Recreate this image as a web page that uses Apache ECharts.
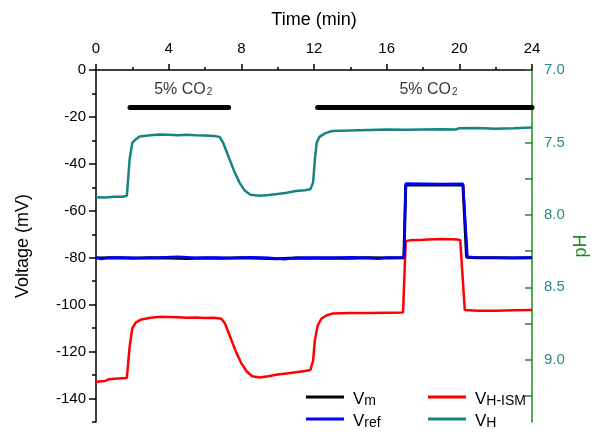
<!DOCTYPE html>
<html>
<head>
<meta charset="utf-8">
<script src="https://cdn.jsdelivr.net/npm/echarts@6/dist/echarts.min.js"></script>
<style>
    html, body { margin: 0; padding: 0; background: #fff; }
    #chart { width: 592px; height: 436px; }
</style>
</head>
<body>
<div id="chart"></div>
<script>
// 数据：时间 (min) 与电压 (mV)
const vm = [
    [0, -80.1], [1, -80.0], [2, -80.2], [3, -80.0], [4, -80.1], [5, -80.3], [6, -80.1], [7, -80.2],
    [8, -80.0], [9, -80.2], [10, -80.4], [11, -80.1], [12, -80.2], [13, -80.1], [14, -80.2],
    [15, -80.0], [16, -80.1], [16.95, -80.0], [17.05, -49.0], [18, -49.0], [19, -48.9],
    [20.2, -49.0], [20.4, -79.8], [21, -80.0], [22, -80.0], [23, -80.1], [24, -80.0]
];
const vref = [
    [0, -79.8], [0.3, -80.6], [0.6, -80.0], [1.5, -79.9], [2.5, -80.1], [3.5, -79.9], [4.5, -79.6],
    [5.5, -80.0], [6.5, -79.9], [7.5, -80.1], [8.5, -79.8], [9.5, -80.0], [10.4, -80.6], [11, -80.0],
    [12, -79.9], [13, -80.0], [14, -79.8], [15, -80.0], [15.5, -80.4], [16, -79.9], [16.95, -79.8],
    [17.05, -48.4], [18, -48.5], [19, -48.6], [20.2, -48.5], [20.45, -79.6], [21, -79.9],
    [22, -80.0], [23, -80.0], [24, -79.9]
];
const vhIsm = [
    [0, -132.8], [0.5, -132.5], [0.7, -131.8], [1.2, -131.5], [1.7, -131.2], [1.85, -118], [2.0, -110],
    [2.2, -107.5], [2.5, -106.3], [3, -105.6], [3.5, -105.2], [4, -105.3], [4.5, -105.4], [5, -105.6],
    [5.5, -105.5], [6, -105.7], [6.5, -105.6], [6.9, -106], [7.1, -108], [7.4, -114], [7.7, -120],
    [8.0, -125], [8.3, -128.5], [8.6, -130.5], [9, -131], [9.5, -130.5], [10, -129.8], [10.5, -129.3],
    [11, -128.8], [11.5, -128.3], [11.8, -127.8], [11.95, -124], [12.05, -115], [12.2, -109],
    [12.4, -106], [12.7, -104.5], [13, -103.8], [14, -103.5], [15, -103.6], [16, -103.4],
    [16.9, -103.3], [17.05, -73], [17.3, -72.5], [18, -72.3], [19, -72.0], [19.9, -72.2],
    [20.05, -72.5], [20.3, -102.3], [21, -102.6], [22, -102.6], [23, -102.4], [24, -102.3]
];
const vh = [
    [0, -54.2], [0.5, -54.3], [1.0, -54.0], [1.5, -54.0], [1.7, -53.5], [1.85, -38], [2.0, -31],
    [2.2, -29.5], [2.4, -28.3], [3, -27.8], [3.5, -27.5], [4, -27.6], [4.5, -27.8], [5, -27.6],
    [5.5, -27.8], [6, -27.9], [6.5, -28.1], [6.8, -28.5], [7.0, -31], [7.3, -37], [7.6, -43],
    [7.9, -48], [8.2, -51.5], [8.5, -53.2], [9, -53.6], [9.5, -53.3], [10, -52.8], [10.5, -52.3],
    [11, -51.6], [11.5, -51.2], [11.8, -50.8], [11.95, -48], [12.05, -38], [12.15, -31],
    [12.3, -28.5], [12.6, -27], [13, -26], [14, -25.8], [15, -25.6], [16, -25.4], [17, -25.5],
    [18, -25.4], [19, -25.3], [19.8, -25.4], [20, -24.8], [21, -24.7], [22, -25], [23, -24.8], [24, -24.5]
];

// 5% CO2 通气时段
const co2Bar1 = [[1.87, -16], [7.3, -16]];
const co2Bar2 = [[12.2, -16], [24, -16]];
const co2Labels = [[4.8, -7.5], [18.3, -7.5]];

// 刻度
const voltMajorTicks = [0, -20, -40, -60, -80, -100, -120, -140];
const voltMinorTicks = [-10, -30, -50, -70, -90, -110, -130, -150];
const phTicks = [7, 7.25, 7.5, 7.75, 8, 8.25, 8.5, 8.75, 9, 9.25];
const phLabels = [7, 7.5, 8, 8.5, 9];

const FONT = 'Liberation Sans';
const GREEN = '#1f8a1f';
const TEAL = '#178482';

const legendNames = {
    'Vm': '{v|V}{s|m}',
    'Vref': '{v|V}{s|ref}',
    'VH-ISM': '{v|V}{s|H-ISM}',
    'VH': '{v|V}{s|H}'
};
const legendRich = {
    v: { fontSize: 17, fontFamily: FONT, color: '#000', lineHeight: 20, verticalAlign: 'bottom', padding: [0, 0, 0, 4] },
    s: { fontSize: 14, fontFamily: FONT, color: '#000', padding: [8, 0, 0, 0], verticalAlign: 'bottom' }
};

// 每个图例单独放置
const makeLegend = (name, left, top) => ({
    data: [name],
    left,
    top,
    icon: 'rect',
    itemWidth: 38,
    itemHeight: 3,
    padding: 0,
    formatter: (n) => legendNames[n],
    textStyle: { rich: legendRich }
});

const lineSeries = (name, data, color, width) => ({
    name,
    type: 'line',
    data,
    showSymbol: false,
    symbol: 'none',
    lineStyle: { color, width },
    itemStyle: { color },
    silent: true
});

const chart = echarts.init(document.getElementById('chart'));

chart.setOption({
    animation: false,
    backgroundColor: '#fff',
    textStyle: { fontFamily: FONT },
    grid: { left: 96, right: 60, top: 70, bottom: 14, containLabel: false, outerBoundsMode: 'none' },
    legend: [
        makeLegend('Vm', 306, 391),
        makeLegend('Vref', 306, 413),
        makeLegend('VH-ISM', 428, 391),
        makeLegend('VH', 428, 413)
    ],
    xAxis: {
        type: 'value',
        position: 'top',
        min: 0,
        max: 24,
        interval: 4,
        name: 'Time (min)',
        nameLocation: 'middle',
        nameGap: 41,
        nameTextStyle: { fontSize: 18, color: '#000', fontFamily: FONT },
        axisLine: { onZero: false, lineStyle: { color: '#000', width: 1.5 } },
        axisTick: { length: 6, lineStyle: { color: '#000', width: 1.5 } },
        minorTick: { show: true, splitNumber: 2, length: 3, lineStyle: { color: '#000', width: 1.5 } },
        axisLabel: { fontSize: 15, color: '#000', margin: 14, fontFamily: FONT },
        splitLine: { show: false }
    },
    yAxis: [
        {
            type: 'value',
            position: 'left',
            min: -150,
            max: 0,
            interval: 10,
            name: 'Voltage (mV)',
            nameLocation: 'middle',
            nameRotate: 90,
            nameGap: 64,
            nameTextStyle: { fontSize: 18, color: '#000', fontFamily: FONT },
            axisLine: { show: true, onZero: false, lineStyle: { color: '#000', width: 1.5 } },
            axisTick: { show: true, customValues: voltMajorTicks, length: 7, lineStyle: { color: '#000', width: 1.5 } },
            axisLabel: { customValues: voltMajorTicks, fontSize: 15, color: '#000', margin: 10, fontFamily: FONT },
            splitLine: { show: false }
        },
        {
            type: 'value',
            position: 'left',
            min: -150,
            max: 0,
            interval: 10,
            axisLine: { show: false },
            axisTick: { show: true, customValues: voltMinorTicks, length: 4, lineStyle: { color: '#000', width: 1.5 } },
            axisLabel: { show: false },
            splitLine: { show: false }
        },
        {
            type: 'value',
            position: 'right',
            min: 7,
            max: 9.43,
            inverse: true,
            name: 'pH',
            nameLocation: 'middle',
            nameRotate: 90,
            nameGap: 40,
            nameMoveOverlap: false,
            nameTextStyle: { fontSize: 18, color: GREEN, fontFamily: FONT },
            axisLine: { show: true, onZero: false, lineStyle: { color: GREEN, width: 1.5 } },
            axisTick: { show: true, inside: true, customValues: phTicks, length: 7, lineStyle: { color: GREEN, width: 1.5 } },
            axisLabel: {
                customValues: phLabels,
                formatter: (v) => Number(v).toFixed(1),
                fontSize: 15,
                color: '#2a8a8a',
                margin: 12,
                fontFamily: FONT
            },
            splitLine: { show: false }
        }
    ],
    series: [
        {
            type: 'line',
            data: co2Bar1,
            symbol: 'none',
            silent: true,
            lineStyle: { color: '#000', width: 5, cap: 'round' }
        },
        {
            type: 'line',
            data: co2Bar2,
            symbol: 'none',
            silent: true,
            lineStyle: { color: '#000', width: 5, cap: 'round' }
        },
        {
            type: 'scatter',
            data: co2Labels,
            symbolSize: 0,
            silent: true,
            label: {
                show: true,
                position: 'inside',
                formatter: '{a|5% CO}{b|2}',
                rich: {
                    a: { fontSize: 16, color: '#000', fontFamily: FONT, verticalAlign: 'bottom', lineHeight: 18 },
                    b: { fontSize: 10, color: '#000', fontFamily: FONT, padding: [9, 0, 0, 1], verticalAlign: 'bottom' }
                }
            }
        },
        lineSeries('VH', vh, TEAL, 2.5),
        lineSeries('VH-ISM', vhIsm, '#ff0000', 2.5),
        lineSeries('Vm', vm, '#000000', 3),
        lineSeries('Vref', vref, '#0000ff', 2.5)
    ]
});
</script>
</body>
</html>
